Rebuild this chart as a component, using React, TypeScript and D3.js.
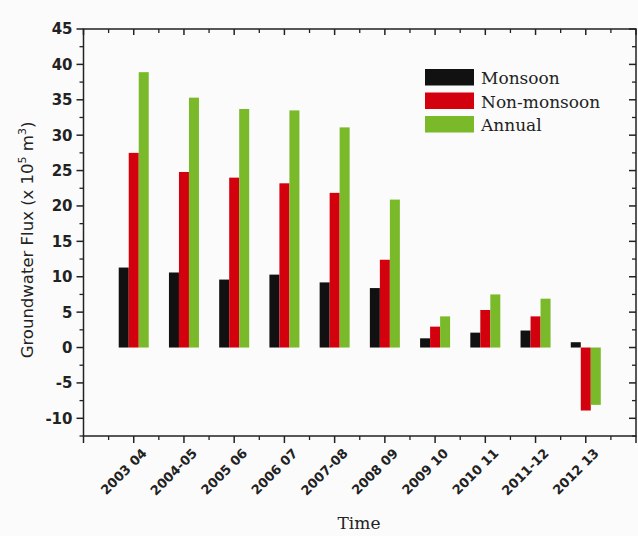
import React from "react";
import * as d3 from "d3";

const categories = ["2003 04", "2004-05", "2005 06", "2006 07", "2007-08", "2008 09", "2009 10", "2010 11", "2011-12", "2012 13"];
const monsoon = [11.3, 10.6, 9.6, 10.3, 9.2, 8.4, 1.3, 2.1, 2.4, 0.75];
const nonMonsoon = [27.5, 24.8, 24.0, 23.2, 21.85, 12.4, 2.95, 5.3, 4.4, -8.9];
const annual = [38.9, 35.3, 33.7, 33.5, 31.1, 20.9, 4.4, 7.5, 6.9, -8.1];
const seriesNames = ["Monsoon", "Non-monsoon", "Annual"];
const seriesColors = ["#111111", "#d3000e", "#7ab929"];
const yTicks = [-10, -5, 0, 5, 10, 15, 20, 25, 30, 35, 40, 45];

export default function App() {
  const W = 638, H = 536;
  const left = 83.5, right = 636, top = 29, bottom = 436;
  const x = d3.scaleLinear().domain([0, categories.length + 1]).range([left, right]);
  const y = d3.scaleLinear().domain([-12.5, 45]).range([bottom, top]);
  const sub = d3.scaleBand<string>().domain(seriesNames).range([-15, 15]).padding(0);
  const data = [monsoon, nonMonsoon, annual];

  const xMajor = d3.range(0, categories.length + 2);
  const xMinor = d3.range(0.5, categories.length + 1, 1);
  const yMinor = d3.range(-12.5, 45.01, 2.5).filter((v) => Math.abs(v % 5) > 0.01);
  const sans = "DejaVu Sans, sans-serif";
  const serif = "DejaVu Serif, serif";
  const stroke = "#222";

  return (
    <svg width={W} height={H} style={{ position: "absolute", left: 0, top: 0 }} xmlns="http://www.w3.org/2000/svg">
      <rect x={0} y={0} width={W} height={H} fill="#fbfbfb" />
      {data.map((vals, si) =>
        vals.map((v, i) => {
          const cx = x(i + 1);
          const y0 = y(0), y1 = y(v);
          return (
            <rect key={`b${si}-${i}`} x={cx + (sub(seriesNames[si]) as number)} width={sub.bandwidth()}
              y={Math.min(y0, y1)} height={Math.abs(y1 - y0)} fill={seriesColors[si]} />
          );
        })
      )}
      <rect x={left} y={top} width={right - left} height={bottom - top} fill="none" stroke={stroke} strokeWidth={1.5} />
      {yTicks.map((t) => (
        <g key={`yt${t}`}>
          <line x1={left - 7} x2={left} y1={y(t)} y2={y(t)} stroke={stroke} strokeWidth={1.5} />
          <line x1={right - 7} x2={right} y1={y(t)} y2={y(t)} stroke={stroke} strokeWidth={1.5} />
          <text x={left - 11} y={y(t)} dy="0.36em" textAnchor="end" fontFamily={sans} fontWeight="bold" fontSize={15} fill="#222">{t}</text>
        </g>
      ))}
      {yMinor.map((t) => (
        <g key={`ym${t}`}>
          <line x1={left - 4} x2={left} y1={y(t)} y2={y(t)} stroke={stroke} strokeWidth={1.3} />
          <line x1={right - 4} x2={right} y1={y(t)} y2={y(t)} stroke={stroke} strokeWidth={1.3} />
        </g>
      ))}
      {xMajor.map((t) => (
        <g key={`xt${t}`}>
          <line x1={x(t)} x2={x(t)} y1={bottom} y2={bottom + 7} stroke={stroke} strokeWidth={1.5} />
          <line x1={x(t)} x2={x(t)} y1={top} y2={top + 6} stroke={stroke} strokeWidth={1.5} />
        </g>
      ))}
      {xMinor.map((t) => (
        <g key={`xm${t}`}>
          <line x1={x(t)} x2={x(t)} y1={bottom} y2={bottom + 4} stroke={stroke} strokeWidth={1.3} />
          <line x1={x(t)} x2={x(t)} y1={top} y2={top + 4} stroke={stroke} strokeWidth={1.3} />
        </g>
      ))}
      {categories.map((c, i) => (
        <text key={`xl${i}`} transform={`translate(${x(i + 1) + 14},${bottom + 18}) rotate(-45)`} textAnchor="end"
          fontFamily={sans} fontWeight="600" fontSize={13} fill="#222">{c}</text>
      ))}
      <text x={359} y={529} textAnchor="middle" fontFamily={serif} fontSize={17} fill="#222">Time</text>
      <text transform={`translate(33,${240}) rotate(-90)`} textAnchor="middle" fontFamily={sans} fontSize={16.5} fill="#222">
        Groundwater Flux (x 10<tspan dy={-7} fontSize={11}>5</tspan><tspan dy={7}> m</tspan><tspan dy={-7} fontSize={11}>3</tspan><tspan dy={7}>)</tspan>
      </text>
      {seriesNames.map((s, i) => (
        <g key={`lg${i}`} transform={`translate(425,${69 + i * 23.5})`}>
          <rect x={0} y={0} width={49} height={16.5} fill={seriesColors[i]} />
          <text x={56} y={15} fontFamily={serif} fontSize={17} fill="#222">{s}</text>
        </g>
      ))}
    </svg>
  );
}
